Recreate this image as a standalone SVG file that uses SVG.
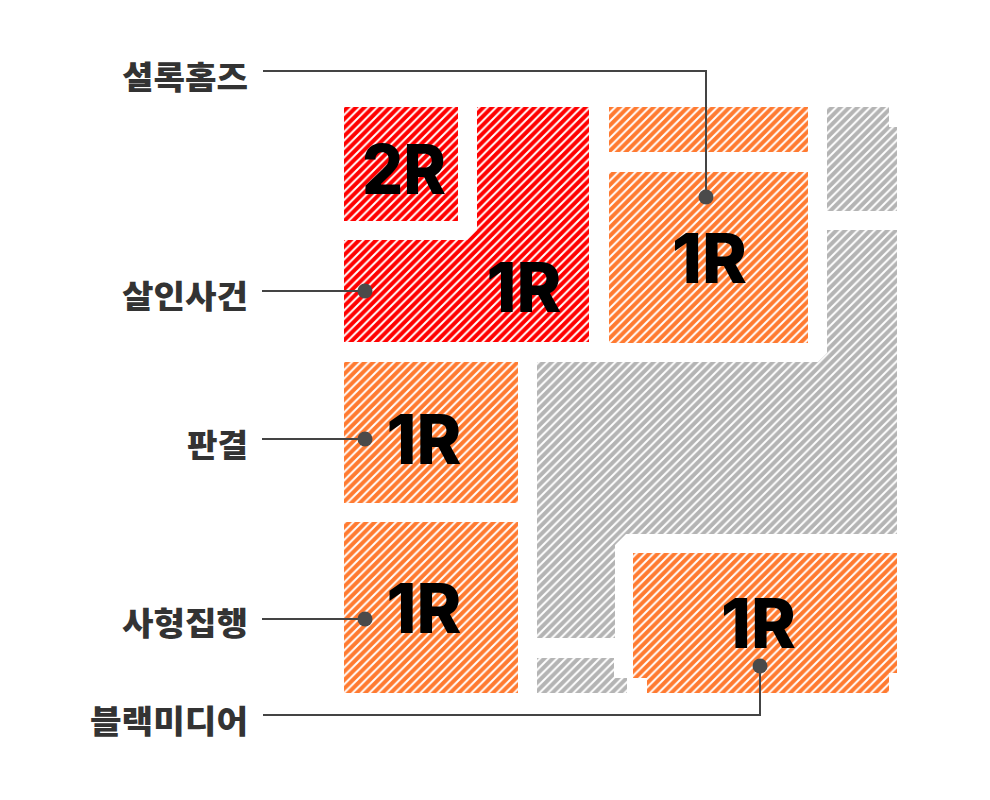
<svg xmlns="http://www.w3.org/2000/svg" width="990" height="800" viewBox="0 0 990 800">
<defs>
<pattern id="hRed" patternUnits="userSpaceOnUse" width="8.5" height="8.5">
<rect width="8.5" height="8.5" fill="#ff0000"/>
<path d="M-2,2 L2,-2 M0,8.5 L8.5,0 M6.5,10.5 L10.5,6.5" stroke="#ffffff" stroke-width="2"/>
</pattern>
<pattern id="hOrange" patternUnits="userSpaceOnUse" width="8.5" height="8.5">
<rect width="8.5" height="8.5" fill="#ff7a30"/>
<path d="M-2,2 L2,-2 M0,8.5 L8.5,0 M6.5,10.5 L10.5,6.5" stroke="#ffffff" stroke-width="2"/>
</pattern>
<pattern id="hGray" patternUnits="userSpaceOnUse" width="8.5" height="8.5">
<rect width="8.5" height="8.5" fill="#b4b4b4"/>
<path d="M-2,2 L2,-2 M0,8.5 L8.5,0 M6.5,10.5 L10.5,6.5" stroke="#ffffff" stroke-width="2"/>
</pattern>
<style>
.red{fill:url(#hRed)}
.org{fill:url(#hOrange)}
.gry{fill:url(#hGray)}
.big{font-family:Inter,"Liberation Sans",sans-serif;font-weight:800;font-size:69px;fill:#000;text-anchor:middle}
.lbl{font-family:"Noto Sans CJK KR","Noto Sans",sans-serif;font-weight:900;font-size:32px;fill:#333;text-anchor:end}
.ln{fill:none;stroke:#444;stroke-width:2}
.dot{fill:#4a4a4a}
</style>
</defs>
<rect width="990" height="800" fill="#ffffff"/>

<g id="gray-areas">
<polygon class="gry" points="827,107 889,107 889,127 897,127 897,211 827,211"/>
<polygon class="gry" points="827,230 897,230 897,534 626,534 615,545 615,638 537,638 537,362 818,362 827,353"/>
<polygon class="gry" points="537,658 614,658 614,678 627,678 627,693 537,693"/>
</g>

<g id="node-2r">
<rect class="red" x="344" y="107" width="114" height="114"/>
<text class="big" x="404" y="194" textLength="84" lengthAdjust="spacingAndGlyphs">2R</text>
</g>
<g id="node-murder">
<polygon class="red" points="477,107 589,107 589,342 344,342 344,240 467,240 477,230"/>
<text class="big" x="524" y="312" textLength="75" lengthAdjust="spacingAndGlyphs">1R</text>
</g>
<g id="node-top-bar">
<rect class="org" x="609" y="107" width="199" height="45"/>
</g>
<g id="node-sherlock">
<rect class="org" x="609" y="172" width="199" height="171"/>
<text class="big" x="709.5" y="283" textLength="75" lengthAdjust="spacingAndGlyphs">1R</text>
</g>
<g id="node-verdict">
<rect class="org" x="344" y="362" width="174" height="141"/>
<text class="big" x="424" y="464" textLength="75" lengthAdjust="spacingAndGlyphs">1R</text>
</g>
<g id="node-execution">
<rect class="org" x="344" y="522" width="174" height="171"/>
<text class="big" x="424" y="633" textLength="75" lengthAdjust="spacingAndGlyphs">1R</text>
</g>
<g id="node-blackmedia">
<polygon class="org" points="633,553 897,553 897,673 889,673 889,693 647,693 647,678 633,678"/>
<text class="big" x="758.5" y="648" textLength="75" lengthAdjust="spacingAndGlyphs">1R</text>
</g>

<g id="connectors">
<polyline class="ln" points="263,71 706,71 706,197"/>
<line class="ln" x1="262" y1="291" x2="365" y2="291"/>
<line class="ln" x1="262" y1="439" x2="365" y2="439"/>
<line class="ln" x1="262" y1="619" x2="365" y2="619"/>
<polyline class="ln" points="263,715 760,715 760,666"/>
<circle class="dot" cx="706" cy="197" r="7.5"/>
<circle class="dot" cx="365" cy="291" r="7.5"/>
<circle class="dot" cx="365" cy="439" r="7.5"/>
<circle class="dot" cx="365" cy="619" r="7.5"/>
<circle class="dot" cx="760" cy="666" r="7.5"/>
</g>

<g id="labels">
<text class="lbl" x="248" y="89" textLength="126" lengthAdjust="spacingAndGlyphs">셜록홈즈</text>
<text class="lbl" x="248" y="308" textLength="126" lengthAdjust="spacingAndGlyphs">살인사건</text>
<text class="lbl" x="248" y="457" textLength="61" lengthAdjust="spacingAndGlyphs">판결</text>
<text class="lbl" x="248" y="635" textLength="126" lengthAdjust="spacingAndGlyphs">사형집행</text>
<text class="lbl" x="248" y="733" textLength="158" lengthAdjust="spacingAndGlyphs">블랙미디어</text>
</g>
</svg>
